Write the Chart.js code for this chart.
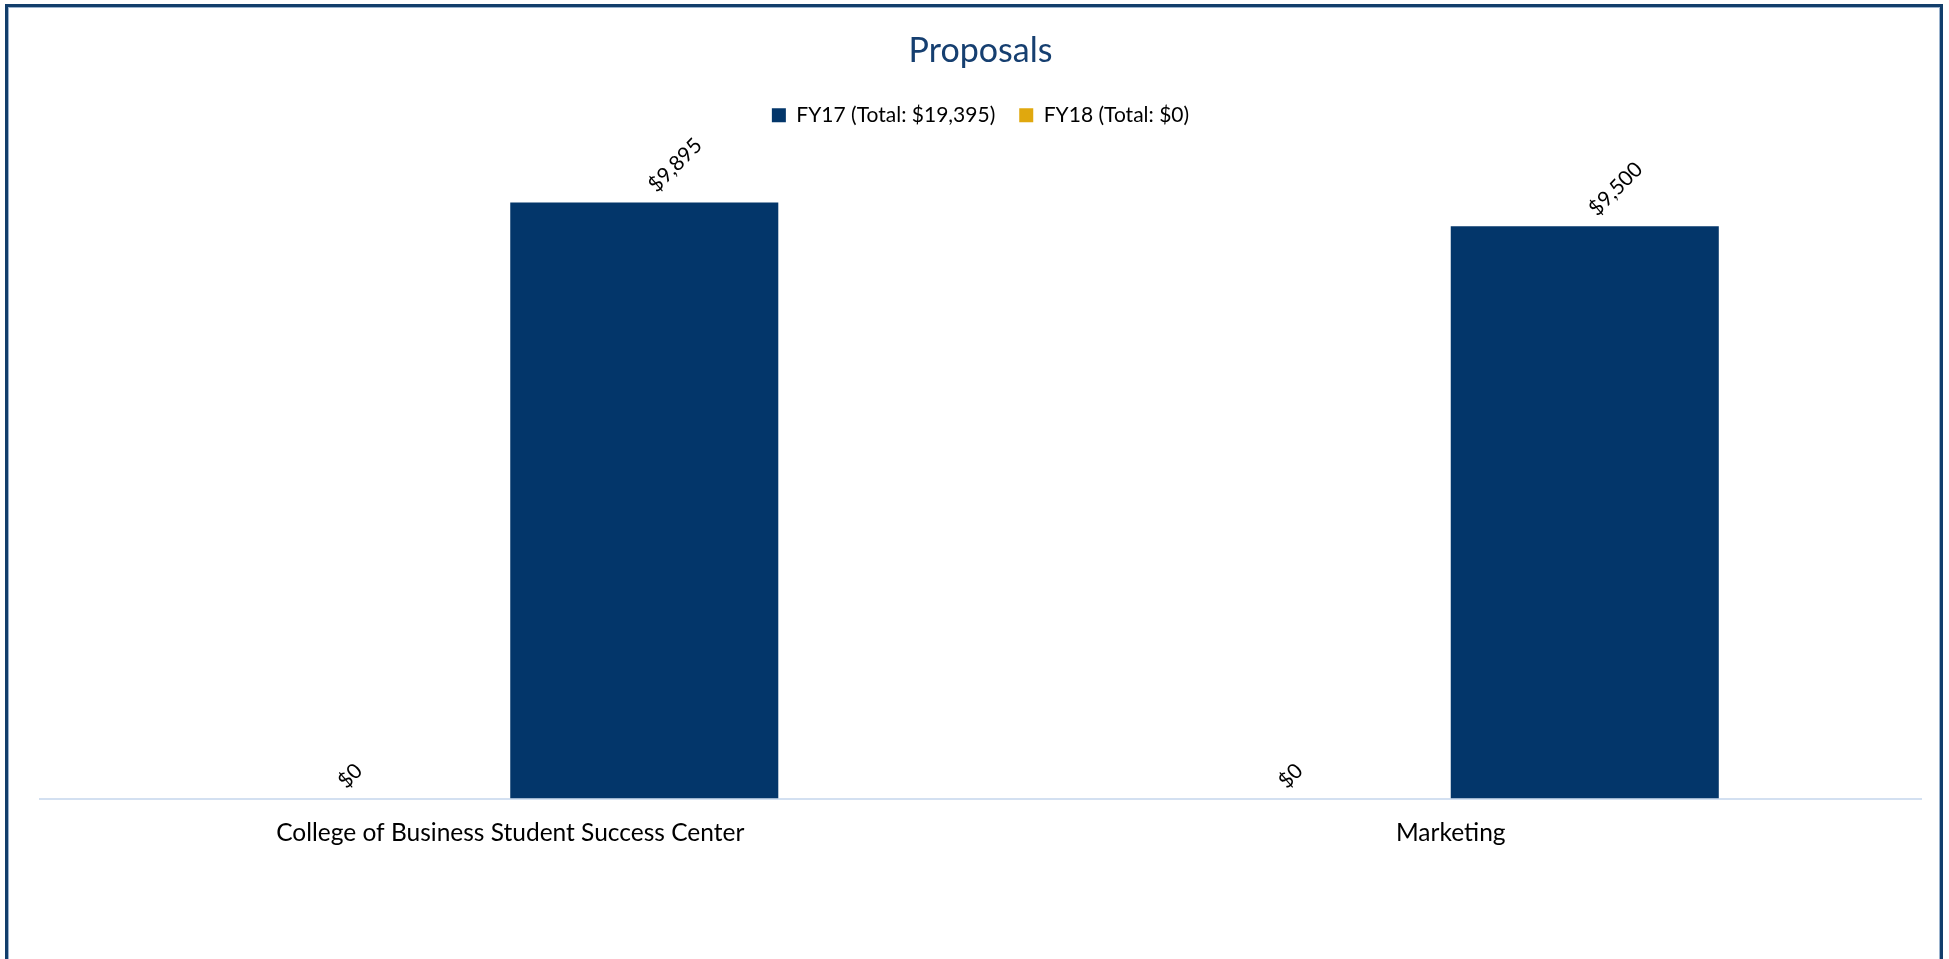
<!DOCTYPE html>
<html>
<head>
<meta charset="utf-8">
<script src="https://cdn.jsdelivr.net/npm/chart.js@4"></script>
<style>
  html,body{margin:0;padding:0;background:#fff;overflow:hidden;}
  #frame{position:absolute;left:5px;top:4px;width:1938px;height:1000px;box-sizing:border-box;
    border:3px solid #123E6B;box-shadow:inset 0 0 0 1px #9BB3CE;}
  #wrap{position:absolute;left:0;top:0;width:1949px;height:959px;}
</style>
</head>
<body>
<div id="frame"></div>
<div id="wrap"><canvas id="proposalsChart"></canvas></div>
<script>
// categories + series
const categories = ['College of Business Student Success Center', 'Marketing'];
const fy17 = [9895, 9500];
const fy18 = [0, 0];

const NAVY = '#03366A';
const GOLD = '#E0A80E';
const FONT = 'Lato, "Open Sans", sans-serif';

function money(n){return '$' + n.toLocaleString('en-US')}
function total(arr){return arr.reduce((a,b)=>a+b,0)}

// rotated value labels above each bar (text centre sits above the bar top)
const labelShift = [-26, 31]; // per dataset, like Excel nudges them
const barLabels = {
  id:'barLabels',
  afterDatasetsDraw(chart){
    const ctx = chart.ctx;
    ctx.save();
    ctx.font = '21px ' + FONT;
    ctx.fillStyle = '#000';
    ctx.textAlign = 'center';
    ctx.textBaseline = 'middle';
    chart.data.datasets.forEach((ds, i) => {
      chart.getDatasetMeta(i).data.forEach((el, j) => {
        const txt = money(ds.data[j]);
        const w = ctx.measureText(txt).width;
        ctx.save();
        ctx.translate(el.x + labelShift[i], el.y - (w * 0.707 / 2 + 14));
        ctx.rotate(-Math.PI/4);
        ctx.fillText(txt, 0, 0);
        ctx.restore();
      });
    });
    ctx.restore();
  }
};

document.addEventListener('DOMContentLoaded', () => {
  const el = document.getElementById('proposalsChart');
  new Chart(el.getContext('2d'), {
    type:'bar',
    data:{
      labels: categories,
      datasets:[
        {label:`FY18 (Total: ${money(total(fy18))})`, data:fy18, backgroundColor:GOLD},
        {label:`FY17 (Total: ${money(total(fy17))})`, data:fy17, backgroundColor:NAVY}
      ]
    },
    options:{
      responsive:true, maintainAspectRatio:false, animation:false,
      layout:{padding:{left:40, right:28, top:0, bottom:91}},
      datasets:{bar:{categoryPercentage:0.57, barPercentage:1}},
      scales:{
        x:{grid:{display:false, drawTicks:false}, border:{display:true, color:'#D3E0F1', width:2},
           ticks:{color:'#000', font:{family:FONT, size:24.5}, padding:20}},
        y:{display:false, min:0, max:11000}
      },
      plugins:{
        title:{display:true, text:'Proposals', color:'#163F70',
               font:{family:FONT, size:34, weight:'normal'}, padding:{top:31, bottom:9}},
        legend:{position:'top', reverse:true,
                labels:{color:'#000', boxWidth:14, boxHeight:14, padding:24,
                        font:{family:FONT, size:21}}},
        tooltip:{enabled:false}
      }
    },
    plugins:[barLabels]
  });
});
</script>
</body>
</html>
